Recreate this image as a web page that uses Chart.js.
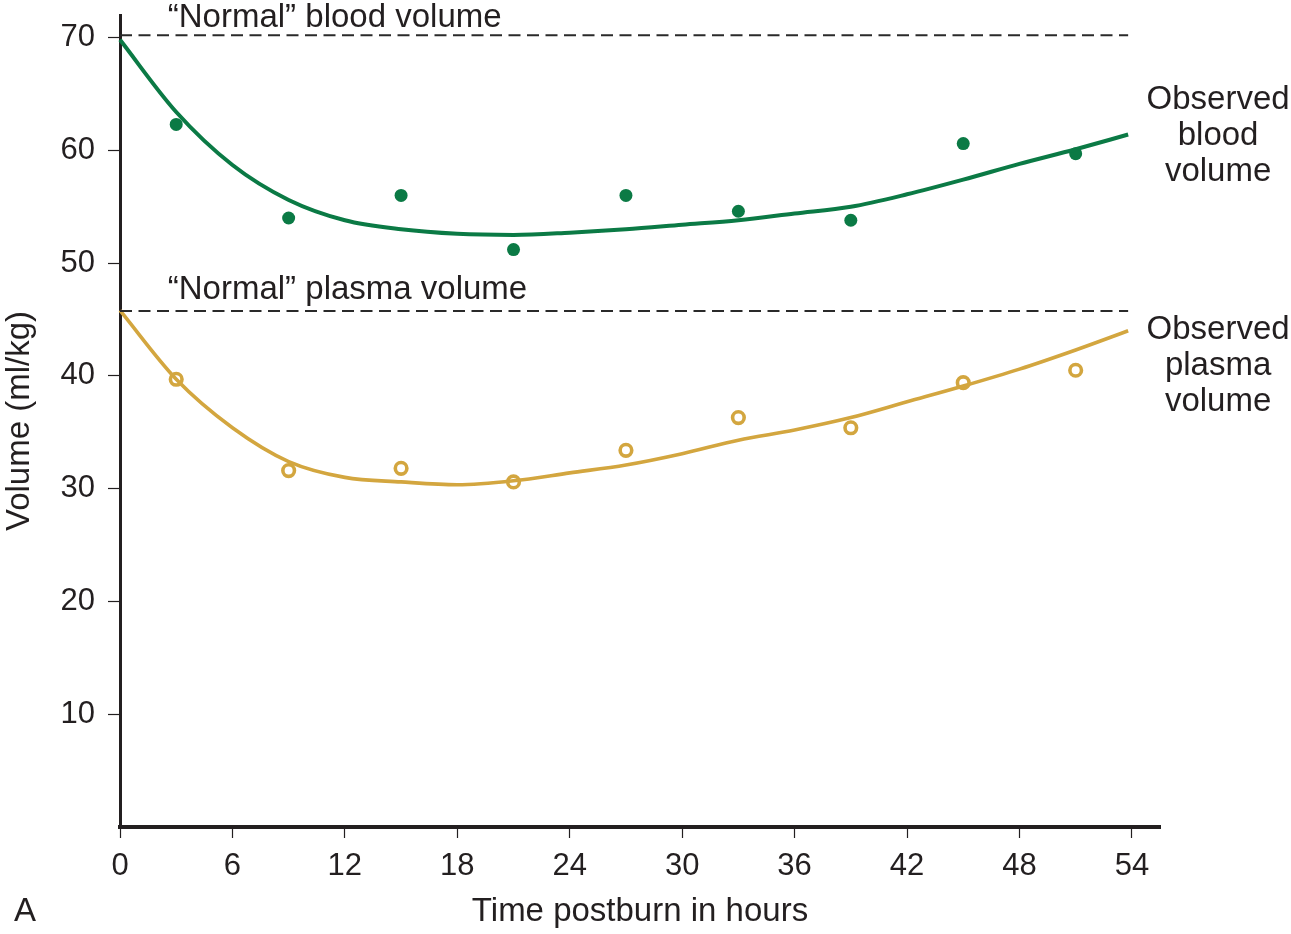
<!DOCTYPE html>
<html>
<head>
<meta charset="utf-8">
<script src="https://cdn.jsdelivr.net/npm/chart.js@4.4.1/dist/chart.umd.min.js"></script>
<style>
  html, body { margin: 0; padding: 0; background: #ffffff; }
  #wrap { width: 1291px; height: 934px; }
</style>
</head>
<body>
<div id="wrap"><canvas id="c" width="1291" height="934"></canvas></div>
<script>
// ---- data ----
const hours = [3, 9, 15, 21, 27, 33, 39, 45, 51];
const bloodObserved = [62.3, 54.0, 56.0, 51.2, 56.0, 54.6, 53.8, 60.6, 59.7];
const plasmaObserved = [39.7, 31.6, 31.8, 30.6, 33.4, 36.3, 35.4, 39.4, 40.5];

const fitHours = [0, 3, 6, 9, 12, 15, 18, 21, 24, 27, 30, 33, 36, 39, 42, 45, 48, 51, 53.8];
const bloodFit = [69.8, 63.4, 58.7, 55.6, 53.8, 53.0, 52.6, 52.5, 52.7, 53.0, 53.4, 53.8, 54.4, 55.0, 56.1, 57.4, 58.8, 60.1, 61.4];
const plasmaFit = [45.8, 39.7, 35.4, 32.4, 31.0, 30.6, 30.35, 30.7, 31.4, 32.1, 33.1, 34.3, 35.2, 36.3, 37.7, 39.1, 40.6, 42.3, 44.0];

const normalBlood = 70.2;
const normalPlasma = 45.75;
const normalRange = [0, 53.8];

const xTicks = [0, 6, 12, 18, 24, 30, 36, 42, 48, 54];
const yTicks = [10, 20, 30, 40, 50, 60, 70];

const xTitle = 'Time postburn in hours';
const yTitle = 'Volume (ml/kg)';
const normalBloodLabel = '\u201CNormal\u201D blood volume';
const normalPlasmaLabel = '\u201CNormal\u201D plasma volume';
const bloodLabel = ['Observed', 'blood', 'volume'];
const plasmaLabel = ['Observed', 'plasma', 'volume'];
const panelLabel = 'A';

// ---- styling ----
const GREEN = '#0b7a45';
const GOLD = '#d3a63f';
const INK = '#231f20';
const FONT = '"Liberation Sans", Arial, Helvetica, sans-serif';

const toXY = (xs, ys) => xs.map((x, i) => ({ x: x, y: ys[i] }));

const textPlugin = {
  id: 'texts',
  afterDraw(chart) {
    const ctx = chart.ctx;
    const xs = chart.scales.x, ys = chart.scales.y;
    ctx.save();
    ctx.fillStyle = INK;
    ctx.font = '33px ' + FONT;
    ctx.textAlign = 'left';
    ctx.textBaseline = 'alphabetic';
    ctx.fillText(normalBloodLabel, xs.getPixelForValue(2.55), ys.getPixelForValue(normalBlood) - 8);
    ctx.fillText(normalPlasmaLabel, xs.getPixelForValue(2.55), ys.getPixelForValue(normalPlasma) - 12);
    ctx.textAlign = 'center';
    ctx.textBaseline = 'middle';
    const cx = xs.getPixelForValue(58.6);
    const lh = 36;
    const by = ys.getPixelForValue(61.25);
    bloodLabel.forEach((t, i) => ctx.fillText(t, cx, by + (i - 1) * lh));
    const py = ys.getPixelForValue(40.85);
    plasmaLabel.forEach((t, i) => ctx.fillText(t, cx, py + (i - 1) * lh));
    ctx.textAlign = 'left';
    ctx.fillText(panelLabel, 14, 912);
    ctx.restore();
  }
};

new Chart(document.getElementById('c'), {
  type: 'scatter',
  data: {
    datasets: [
      {
        type: 'line', label: 'normal blood',
        data: toXY(normalRange, [normalBlood, normalBlood]),
        borderColor: '#2a2a2a', borderWidth: 2, borderDash: [12, 6.5],
        pointRadius: 0, fill: false
      },
      {
        type: 'line', label: 'normal plasma',
        data: toXY(normalRange, [normalPlasma, normalPlasma]),
        borderColor: '#2a2a2a', borderWidth: 2, borderDash: [12, 6.5],
        pointRadius: 0, fill: false
      },
      {
        type: 'line', label: 'blood fit',
        data: toXY(fitHours, bloodFit),
        borderColor: GREEN, borderWidth: 4,
        cubicInterpolationMode: 'monotone',
        pointRadius: 0, fill: false
      },
      {
        type: 'line', label: 'plasma fit',
        data: toXY(fitHours, plasmaFit),
        borderColor: GOLD, borderWidth: 3.6,
        cubicInterpolationMode: 'monotone',
        pointRadius: 0, fill: false
      },
      {
        label: 'blood observed',
        data: toXY(hours, bloodObserved),
        backgroundColor: GREEN, borderColor: GREEN,
        pointRadius: 6.5, borderWidth: 0, showLine: false
      },
      {
        label: 'plasma observed',
        data: toXY(hours, plasmaObserved),
        backgroundColor: '#ffffff', borderColor: GOLD,
        pointRadius: 5.8, borderWidth: 3.6, showLine: false
      }
    ]
  },
  options: {
    responsive: false,
    animation: false,
    clip: false,
    layout: { padding: { left: 0, top: 15, right: 131, bottom: 0 } },
    plugins: { legend: { display: false }, tooltip: { enabled: false } },
    scales: {
      x: {
        type: 'linear', min: 0, max: 55.5,
        afterFit(s) { s.height = 107; s.paddingLeft = 0; s.paddingRight = 0; },
        afterBuildTicks(s) { s.ticks = xTicks.map(v => ({ value: v })); },
        grid: { drawOnChartArea: false, drawTicks: true, tickLength: 11, tickColor: INK, tickWidth: 1.2 },
        border: { display: true, color: INK, width: 4 },
        ticks: { color: INK, font: { family: FONT, size: 31 }, padding: 10, maxRotation: 0, autoSkip: false },
        title: { display: true, text: xTitle, color: INK, font: { family: FONT, size: 33 }, padding: { top: 0, bottom: 2 } }
      },
      y: {
        type: 'linear', min: 0, max: 72,
        afterFit(s) { s.width = 120; s.paddingTop = 0; s.paddingBottom = 0; },
        afterBuildTicks(s) { s.ticks = yTicks.map(v => ({ value: v })); },
        grid: { drawOnChartArea: false, drawTicks: true, tickLength: 12, tickColor: INK, tickWidth: 1.2 },
        border: { display: true, color: INK, width: 3 },
        ticks: { color: INK, font: { family: FONT, size: 31 }, padding: 13, autoSkip: false },
        title: { display: true, text: yTitle, color: INK, font: { family: FONT, size: 33 }, padding: { top: 0, bottom: 0 } }
      }
    }
  },
  plugins: [textPlugin]
});
</script>
</body>
</html>
